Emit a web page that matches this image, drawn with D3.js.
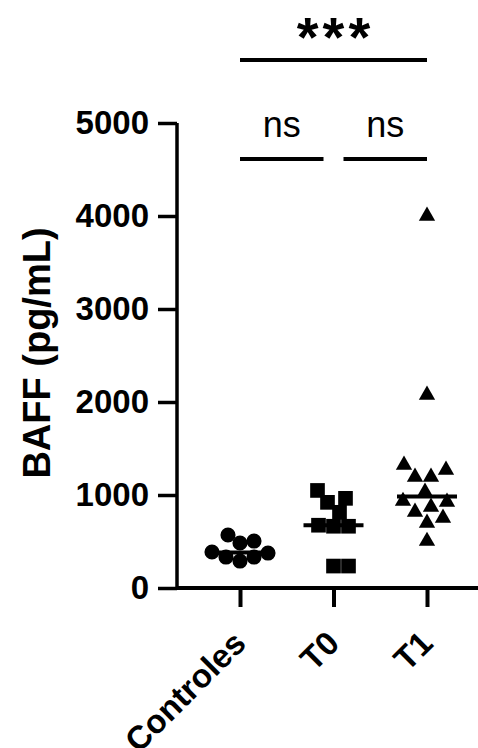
<!DOCTYPE html>
<html>
<head>
<meta charset="utf-8">
<script src="https://cdn.jsdelivr.net/npm/d3@7"></script>
<style>
  body { margin: 0; background: #fff; }
  text { font-family: "Liberation Sans", Arial, sans-serif; fill: #000; }
</style>
</head>
<body>
<div id="chart"></div>
<script>
const categories = ["Controles", "T0", "T1"];
const controles = [290, 333, 333, 376, 387, 484, 505, 570];
const t0 = [236, 236, 664, 664, 675, 814, 921, 964, 1049];
const t1 = [505, 699, 753, 817, 871, 925, 935, 1032, 1194, 1194, 1269, 1323, 2075, 4000];
const yTicks = [0, 1000, 2000, 3000, 4000, 5000];
const yTitle = "BAFF (pg/mL)";
const comparisons = [
    { from: "Controles", to: "T1", label: "***" },
    { from: "Controles", to: "T0", label: "ns" },
    { from: "T0", to: "T1", label: "ns" }
];

const width = 478;
const height = 748;

const groups = [
    { name: "Controles", values: controles, symbol: d3.symbolCircle, size: 180, gap: 14 },
    { name: "T0", values: t0, symbol: d3.symbolSquare, size: 215, gap: 15 },
    { name: "T1", values: t1, symbol: d3.symbolTriangle, size: 115, gap: 16 }
];

const svg = d3.select("#chart")
    .append("svg")
    .attr("width", width)
    .attr("height", height);

const x = d3.scalePoint()
    .domain(categories)
    .range([240, 427]);

const y = d3.scaleLinear()
    .domain([0, 5000])
    .range([588, 123]);

const axisX = 177;

// y axis
const gy = svg.append("g")
    .attr("transform", `translate(${axisX},0)`)
    .call(d3.axisLeft(y).tickValues(yTicks).tickSize(19).tickPadding(9).tickFormat(d3.format("d")));
gy.select(".domain").attr("stroke-width", 3.5).attr("d", `M0,${y(5000)}V${y(0)}`);
gy.selectAll(".tick line").attr("stroke-width", 3.5);
gy.selectAll(".tick text")
    .style("font-size", "33px")
    .style("font-weight", "bold");

// x axis
const gx = svg.append("g")
    .attr("transform", `translate(0,${y(0)})`)
    .call(d3.axisBottom(x).tickSize(19).tickFormat(""));
gx.select(".domain").attr("stroke-width", 4).attr("d", `M${axisX},0H${width}`);
gx.selectAll(".tick line").attr("stroke-width", 4);

gx.selectAll(".tick")
    .append("text")
    .attr("transform", "translate(-1,49) rotate(-45)")
    .attr("text-anchor", "end")
    .attr("dy", "0.35em")
    .style("font-size", "33px")
    .style("font-weight", "bold")
    .text(d => d);

// y title
svg.append("text")
    .attr("transform", "rotate(-90)")
    .attr("x", -353)
    .attr("y", 50)
    .attr("text-anchor", "middle")
    .style("font-size", "38px")
    .style("font-weight", "bold")
    .text(yTitle);

// simple beeswarm: nearest free offset to the column centre
function swarm(values, gap) {
    const placed = [];
    return values.map(v => {
        const py = y(v);
        let dx = 0;
        for (let k = 0; k < 400; k++) {
            const cand = k % 2 ? Math.ceil(k / 2) : -k / 2;
            const hit = placed.some(p => (p.dx - cand) ** 2 + (p.py - py) ** 2 < gap * gap);
            if (!hit) { dx = cand; break; }
        }
        const pt = { v, py, dx };
        placed.push(pt);
        return pt;
    });
}

groups.forEach(g => {
    const pts = swarm(g.values, g.gap);
    svg.append("g")
        .selectAll("path")
        .data(pts)
        .join("path")
        .attr("d", d3.symbol().type(g.symbol).size(g.size))
        .attr("transform", d => `translate(${x(g.name) + d.dx},${d.py})`)
        .attr("fill", "#000");

    svg.append("line")
        .attr("x1", x(g.name) - 30)
        .attr("x2", x(g.name) + 30)
        .attr("y1", y(d3.median(g.values)))
        .attr("y2", y(d3.median(g.values)))
        .attr("stroke", "#000")
        .attr("stroke-width", 4);
});

// significance brackets
const middle = categories[1];
comparisons.forEach(c => {
    const wide = c.from === categories[0] && c.to === categories[2];
    const ly = wide ? 60 : 159;
    const x1 = x(c.from) + (c.from === middle ? 10 : 0);
    const x2 = x(c.to) - (c.to === middle ? 10 : 0);
    svg.append("line")
        .attr("x1", x1).attr("x2", x2)
        .attr("y1", ly).attr("y2", ly)
        .attr("stroke", "#000")
        .attr("stroke-width", 4);
    svg.append("text")
        .attr("x", (x1 + x2) / 2 + (wide ? 2 : 0))
        .attr("y", wide ? 56 : 137)
        .attr("text-anchor", "middle")
        .style("font-size", wide ? "56px" : "36px")
        .style("font-weight", wide ? "bold" : "normal")
        .style("letter-spacing", wide ? "4px" : null)
        .text(c.label);
});
</script>
</body>
</html>
